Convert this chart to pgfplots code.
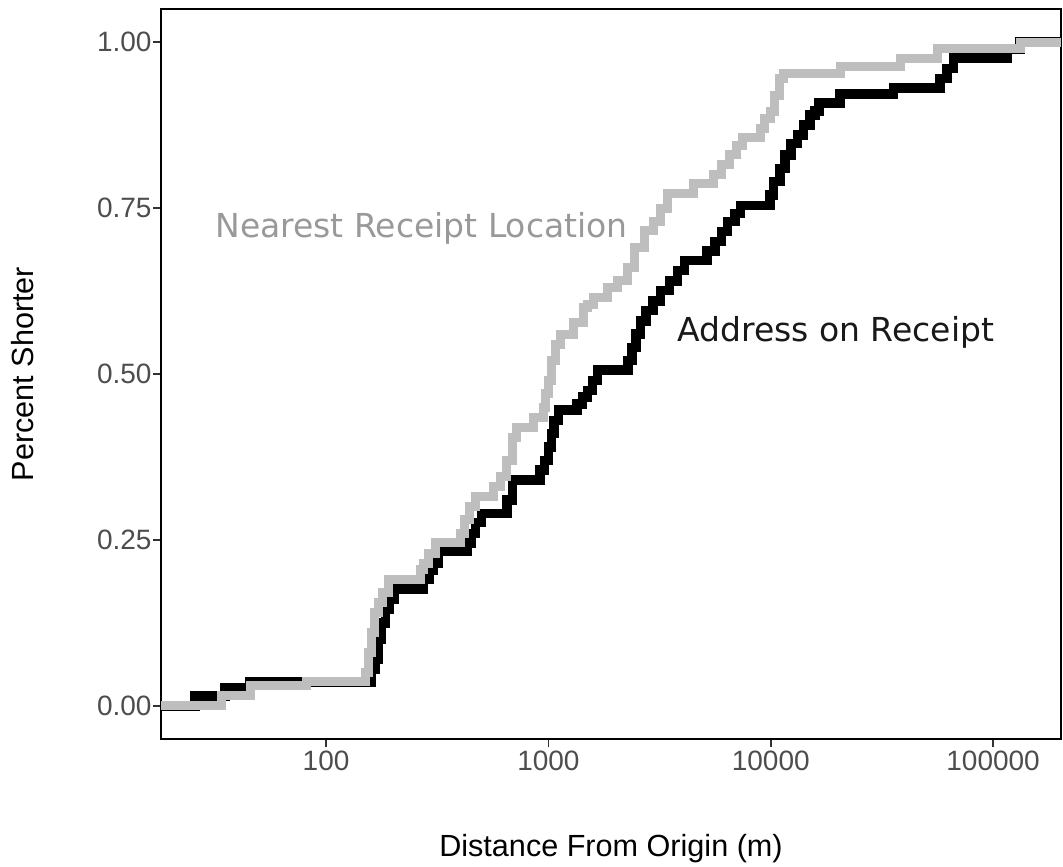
\documentclass[border=0pt]{standalone}
\usepackage{fontspec}
\setmainfont{Liberation Sans}
\newfontfamily\dejavu{DejaVu Sans}
\usepackage{pgfplots}
\pgfplotsset{compat=1.18}
\definecolor{ggrey}{HTML}{BEBEBE}
\definecolor{ticklab}{HTML}{4D4D4D}
\definecolor{anngrey}{HTML}{999999}
\begin{document}
\begin{tikzpicture}
\begin{axis}[
  name=ax,
  scale only axis,
  width=900pt, height=730pt,
  xmode=log,
  xmin=18.1, xmax=202000,
  ymin=-0.05, ymax=1.05,
  xtick={100,1000,10000,100000},
  xticklabels={100,1000,10000,100000},
  ytick={0,0.25,0.5,0.75,1},
  yticklabels={0.00,0.25,0.50,0.75,1.00},
  xminorticks=false, yminorticks=false,
  xtick pos=bottom, ytick pos=left,
  tick align=outside,
  major tick length=8pt,
  tick style={line width=1.8pt, color=black!80},
  axis line style={line width=2.3pt},
  /pgf/number format/assume math mode=true,
  ticklabel style={font=\fontsize{28}{30}\selectfont, text=ticklab},
  yticklabel style={xshift=2pt},
  xlabel={Distance From Origin (m)},
  ylabel={Percent Shorter},
  label style={font=\fontsize{30.6}{32}\selectfont},
  xlabel style={at={(axis description cs:0.5,-0.1616)}, anchor=base},
  ylabel style={at={(axis description cs:-0.1533,0.5)}, anchor=center},
  clip=true,
]
% Address on Receipt (black)
\addplot[const plot, black, line width=9.5pt, line join=miter] coordinates {
(18.1,0) (25.8,0.015) (35.2,0.027) (45.5,0.036)
(160,0.055) (166,0.07) (172,0.1) (178,0.125) (185,0.145) (192,0.16) (202,0.176)
(273,0.19) (290,0.205) (303,0.215) (320,0.233)
(431,0.245) (450,0.26) (470,0.276) (500,0.29)
(652,0.31) (690,0.34)
(918,0.355) (960,0.37) (1000,0.39) (1030,0.41) (1060,0.43) (1110,0.446)
(1346,0.455) (1420,0.465) (1500,0.475) (1580,0.49) (1660,0.506)
(2280,0.52) (2380,0.54) (2480,0.56) (2600,0.58) (2750,0.596) (2960,0.61) (3200,0.626) (3500,0.64) (3800,0.656) (4100,0.671)
(5173,0.685) (5600,0.70) (6000,0.715) (6400,0.73) (6900,0.742) (7300,0.754)
(9933,0.77) (10300,0.79) (11000,0.81) (11600,0.83) (12300,0.847) (13200,0.86) (14000,0.875) (15000,0.89) (15800,0.896) (16500,0.908)
(20520,0.922) (35560,0.931) (57830,0.945) (62000,0.96) (66190,0.976)
(115700,0.99) (132400,1.0) (202000,1.0)
};
% Nearest Receipt Location (grey)
\addplot[const plot, ggrey, line width=9pt, line join=miter] coordinates {
(18.1,0) (34.0,0.015) (45.5,0.03) (82,0.036)
(150,0.05) (155,0.08) (160,0.11) (165,0.14) (172,0.155) (180,0.17) (190,0.19)
(265,0.205) (275,0.215) (290,0.23) (310,0.246)
(401,0.26) (420,0.28) (440,0.30) (470,0.315)
(564,0.33) (610,0.345) (650,0.37) (690,0.405) (720,0.42)
(853,0.435) (950,0.45) (970,0.47) (1000,0.49) (1030,0.52) (1080,0.545) (1130,0.56)
(1291,0.577) (1433,0.6) (1500,0.605) (1589,0.616)
(1837,0.63) (2037,0.641) (2259,0.66) (2450,0.69) (2700,0.716) (2960,0.73) (3200,0.75) (3450,0.772)
(4477,0.787) (5503,0.80) (6000,0.815) (6500,0.83) (7000,0.845) (7500,0.856)
(8960,0.87) (9400,0.885) (9933,0.896) (10400,0.92) (11000,0.946) (11370,0.953)
(20520,0.964) (38200,0.975) (56080,0.99) (132400,1.0) (202000,1.0)
};
\node[anchor=base west, text=anngrey, font=\dejavu\fontsize{33}{35}\selectfont, inner sep=0pt] at (axis cs:31.7,0.706) {Nearest Receipt Location};
\node[anchor=base west, text=black!90, font=\dejavu\fontsize{33}{35}\selectfont, inner sep=0pt] at (axis cs:3793,0.5495) {Address on Receipt};
\end{axis}
\pgfresetboundingbox
\path[use as bounding box] ([xshift=-161pt,yshift=-128pt]ax.south west) rectangle ([xshift=2pt,yshift=9pt]ax.north east);
\end{tikzpicture}
\end{document}
